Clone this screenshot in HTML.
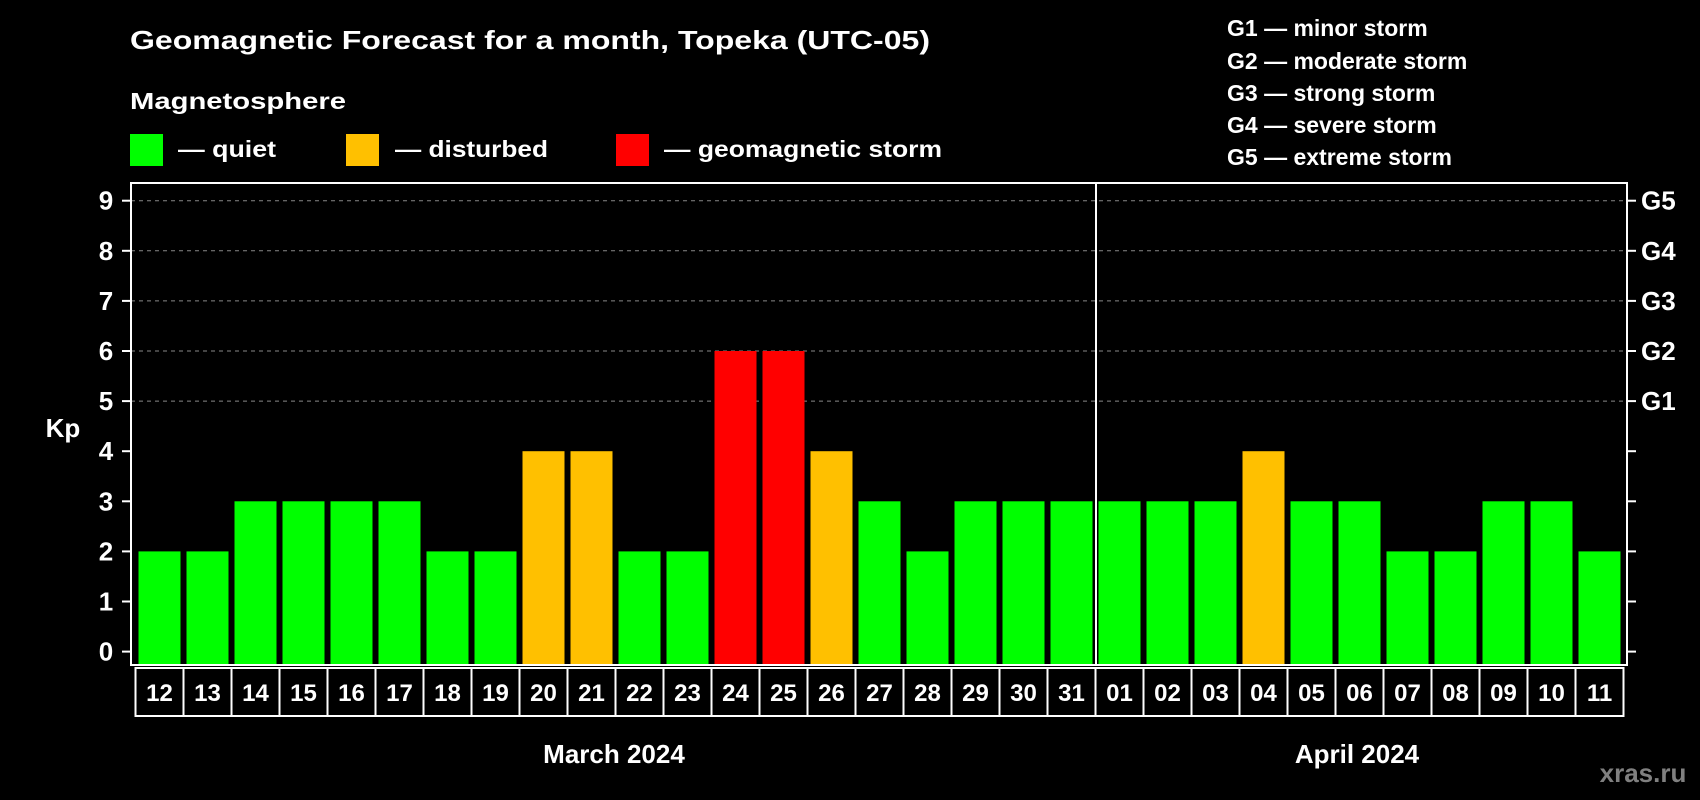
<!DOCTYPE html>
<html><head><meta charset="utf-8"><style>
html,body{margin:0;padding:0;background:#000;}
svg{display:block;font-family:"Liberation Sans",Arial,sans-serif;font-weight:bold;}
</style></head><body>
<svg id="chart" width="1700" height="800" viewBox="0 0 1700 800" xmlns="http://www.w3.org/2000/svg">
<rect width="1700" height="800" fill="#000"/>
<text x="130" y="49" fill="#fff" font-size="26" textLength="800" lengthAdjust="spacingAndGlyphs">Geomagnetic Forecast for a month, Topeka (UTC-05)</text>
<text x="130" y="109" fill="#fff" font-size="23" textLength="216" lengthAdjust="spacingAndGlyphs">Magnetosphere</text>
<g>
<rect x="130" y="134" width="33" height="32" fill="#00ff00"/>
<text x="178" y="157" fill="#fff" font-size="23" textLength="98" lengthAdjust="spacingAndGlyphs">— quiet</text></g>
<g>
<rect x="346" y="134" width="33" height="32" fill="#ffc000"/>
<text x="395" y="157" fill="#fff" font-size="23" textLength="153" lengthAdjust="spacingAndGlyphs">— disturbed</text></g>
<g>
<rect x="616" y="134" width="33" height="32" fill="#ff0000"/>
<text x="664" y="157" fill="#fff" font-size="23" textLength="278" lengthAdjust="spacingAndGlyphs">— geomagnetic storm</text></g>
<g fill="#fff" font-size="23">
<text x="1227" y="36">G1 — minor storm</text>
<text x="1227" y="69">G2 — moderate storm</text>
<text x="1227" y="101">G3 — strong storm</text>
<text x="1227" y="133">G4 — severe storm</text>
<text x="1227" y="165">G5 — extreme storm</text>
</g>
<text x="63" y="437" fill="#fff" font-size="26" text-anchor="middle">Kp</text>
<g id="plot"></g>
<text x="614" y="763" fill="#fff" font-size="26" text-anchor="middle">March 2024</text>
<text x="1357" y="763" fill="#fff" font-size="26" text-anchor="middle">April 2024</text>
<text x="1643" y="782" fill="#808080" font-size="26" text-anchor="middle">xras.ru</text>
</svg>
<script>
const days = ["12","13","14","15","16","17","18","19","20","21","22","23","24","25","26","27","28","29","30","31","01","02","03","04","05","06","07","08","09","10","11"];
const kpValues = [2,2,3,3,3,3,2,2,4,4,2,2,6,6,4,3,2,3,3,3,3,3,3,4,3,3,2,2,3,3,2];
const yTicks = [0,1,2,3,4,5,6,7,8,9];
const gLabels = ["G1","G2","G3","G4","G5"];
const gLevels = [5,6,7,8,9];
const monthSplitIndex = 20;

const NS = "http://www.w3.org/2000/svg";
const plot = document.getElementById("plot");
const L = 131, R = 1627, T = 183, B = 665;
const y = v => 651.6 - v * 50.1;
const step = 48, x0 = 135.5;
const x = i => x0 + i * step;
function mk(tag, attrs, parent) {
  const e = document.createElementNS(NS, tag);
  for (const k in attrs) e.setAttribute(k, attrs[k]);
  (parent || plot).appendChild(e);
  return e;
}
// grid lines
gLevels.forEach(v => {
  const g = mk("line", {x1: L, x2: R, y1: y(v), y2: y(v), stroke: "#888", "stroke-width": 1, "stroke-dasharray": "4,4"});
  
  
});
// bars
kpValues.forEach((v, i) => {
  const c = v >= 5 ? "#ff0000" : (v >= 4 ? "#ffc000" : "#00ff00");
  const b = mk("rect", {x: x(i) + 3, y: y(v), width: 42, height: y(0) - y(v) + 13.4, fill: c});
  
  
});
// frame
const fr = mk("rect", {x: L, y: T, width: R - L, height: B - T, fill: "none", stroke: "#fff", "stroke-width": 2});


const sep = mk("line", {x1: x(monthSplitIndex) + 0.5, x2: x(monthSplitIndex) + 0.5, y1: T, y2: B, stroke: "#fff", "stroke-width": 2});


// y ticks and labels
yTicks.forEach(v => {
  mk("line", {x1: L - 9, x2: L, y1: y(v), y2: y(v), stroke: "#fff", "stroke-width": 2});
  mk("line", {x1: R, x2: R + 9, y1: y(v), y2: y(v), stroke: "#fff", "stroke-width": 2});
  const t = mk("text", {x: 106, y: y(v) + 9, fill: "#fff", "font-size": 26, "text-anchor": "middle"});
  t.textContent = v;
  
  
});
gLabels.forEach((g, i) => {
  const t = mk("text", {x: 1641, y: y(gLevels[i]) + 9, fill: "#fff", "font-size": 26});
  t.textContent = g;
  
  
});
// day cells
days.forEach((d, i) => {
  const r = mk("rect", {x: x(i), y: 668, width: step, height: 48, fill: "none", stroke: "#fff", "stroke-width": 2});
  
  
  const t = mk("text", {x: x(i) + step / 2, y: 701, fill: "#fff", "font-size": 24, "text-anchor": "middle"});
  t.textContent = d;
  
  
});
</script>
</body></html>
